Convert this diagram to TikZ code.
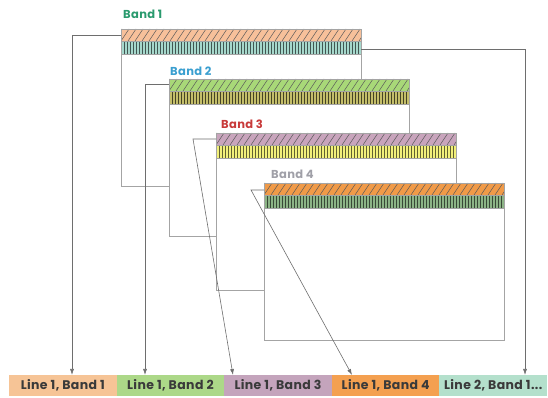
\documentclass[tikz,border=0pt]{standalone}
\usepackage{fontspec}
\setmainfont{Poppins}[LetterSpace=3]
\usetikzlibrary{calc,positioning,arrows.meta}

\definecolor{framegray}{HTML}{A4A4A4}
\definecolor{linegray}{HTML}{6E6E6E}
\definecolor{textgray}{HTML}{3A3A3A}
\definecolor{labone}{HTML}{2A9A6E}
\definecolor{labtwo}{HTML}{3A9FD0}
\definecolor{labthree}{HTML}{C83A3A}
\definecolor{labfour}{HTML}{A0A0A8}
\definecolor{hatchone}{HTML}{F7C09A}
\definecolor{barone}{HTML}{A6D8CC}
\definecolor{hatchtwo}{HTML}{A8D878}
\definecolor{bartwo}{HTML}{C4BE6A}
\definecolor{hatchthree}{HTML}{C8A4BC}
\definecolor{barthree}{HTML}{F2F07A}
\definecolor{hatchfour}{HTML}{F09A48}
\definecolor{barfour}{HTML}{8CB486}
\definecolor{boxone}{HTML}{F6C496}
\definecolor{boxtwo}{HTML}{ACD888}
\definecolor{boxthree}{HTML}{C4A4BC}
\definecolor{boxfour}{HTML}{F4A050}
\definecolor{boxfive}{HTML}{B4E0CC}

\tikzset{
	bandframe/.style={draw=framegray, line width=0.8pt, fill=white, minimum width=240pt, minimum height=157pt, inner sep=0pt, outer sep=0pt, anchor=north west},
	hatch/.style={draw=black!65, line width=0.5pt},
	bar/.style={line width=0.8pt},
	conn/.style={draw=linegray, line width=0.6pt, -{Latex[length=6pt,width=4pt]}},
	linebox/.style={minimum width=107.6pt, minimum height=21pt, inner sep=0pt, outer sep=0pt, text=textgray, font=\bfseries\fontsize{12.5}{12.5}\selectfont},
	bandlabel/.style={anchor=south west, inner sep=0pt, font=\bfseries\fontsize{11.5}{11.5}\selectfont}
}

% hatched strip and barred strip along the top of a frame
\newcommand{\bandstrips}[4]{%
	\fill[#2] ($(#1.north west)+(0,-12)$) rectangle (#1.north east);
	\begin{scope}
		\clip ($(#1.north west)+(0,-12)$) rectangle (#1.north east);
		\foreach \i in {-2,...,35} \draw[hatch] ($(#1.north west)+(\i*7,-12)$) -- ++(8,12);
	\end{scope}
	\fill[#3] ($(#1.north west)+(0,-25)$) rectangle ($(#1.north east)+(0,-12)$);
	\foreach \i in {1,...,79} \draw[bar, #4] ($(#1.north west)+(\i*3,-25)$) -- ++(0,13);
	\draw[framegray, line width=0.6pt] ($(#1.north west)+(0,-25)$) rectangle (#1.north east);
	\draw[framegray, line width=0.6pt] ($(#1.north west)+(0,-12)$) -- ($(#1.north east)+(0,-12)$);
}

\begin{document}
\begin{tikzpicture}[x=1pt,y=1pt]
	\useasboundingbox (0,0) rectangle (548,398);

	\node[bandframe] (f1) at (121,369) {};
	\bandstrips{f1}{hatchone}{barone}{black!60!barone}
	\node[bandlabel, text=labone] (l1) at (123,379) {Band 1};

	\node[bandframe] (f2) at (169,319) {};
	\bandstrips{f2}{hatchtwo}{bartwo}{black!65!bartwo}
	\node[bandlabel, text=labtwo] (l2) at (170,322) {Band 2};

	\node[bandframe] (f3) at (216,265) {};
	\bandstrips{f3}{hatchthree}{barthree}{black!60!barthree}
	\node[bandlabel, text=labthree] (l3) at (221,269) {Band 3};

	\node[bandframe] (f4) at (264,215) {};
	\bandstrips{f4}{hatchfour}{barfour}{black!60!barfour}
	\node[bandlabel, text=labfour] (l4) at (271,219) {Band 4};

	\node[linebox, fill=boxone, anchor=south west] (b1) at (9,2) {Line 1, Band 1};
	\node[linebox, fill=boxtwo, right=0pt of b1] (b2) {Line 1, Band 2};
	\node[linebox, fill=boxthree, right=0pt of b2] (b3) {Line 1, Band 3};
	\node[linebox, fill=boxfour, right=0pt of b3] (b4) {Line 1, Band 4};
	\node[linebox, fill=boxfive, right=0pt of b4] (b5) {Line 2, Band 1...};

	\coordinate (k1) at (72,363);
	\coordinate (k2) at (145,314);
	\coordinate (k3) at (193,259);
	\coordinate (k4) at (251,208);
	\coordinate (k5) at (525,349);
	\coordinate (e3) at (233,0);
	\coordinate (e4) at (352,0);

	\draw[conn] (f1.west |- k1) -- (k1) -- (k1 |- b1.north);
	\draw[conn] (f2.west |- k2) -- (k2) -- (k2 |- b2.north);
	\draw[conn] (f3.west |- k3) -- (k3) -- (e3 |- b3.north);
	\draw[conn] (f4.west |- k4) -- (k4) -- (e4 |- b4.north);
	\draw[conn] (f1.east |- k5) -- (k5) -- (k5 |- b5.north);
\end{tikzpicture}
\end{document}
